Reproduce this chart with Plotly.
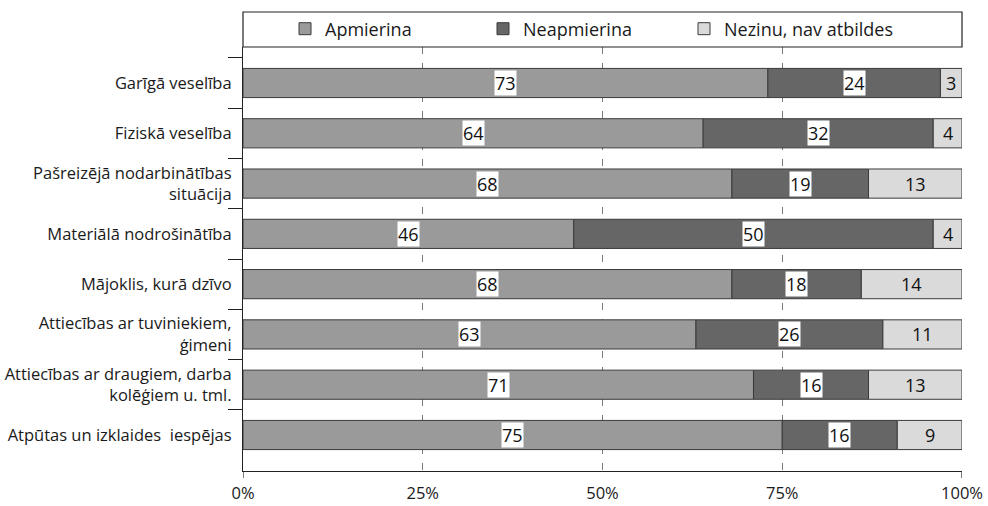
import plotly.graph_objects as go

# Survey categories (top to bottom)
categories = [
    "Garīgā veselība",
    "Fiziskā veselība",
    "Pašreizējā nodarbinātības<br>situācija",
    "Materiālā nodrošinātība",
    "Mājoklis, kurā dzīvo",
    "Attiecības ar tuviniekiem,<br>ģimeni",
    "Attiecības ar draugiem, darba<br>kolēģiem u. tml.",
    "Atpūtas un izklaides  iespējas",
]

# Shares of respondents, %
apmierina = [73, 64, 68, 46, 68, 63, 71, 75]
neapmierina = [24, 32, 19, 50, 18, 26, 16, 16]
nezinu = [3, 4, 13, 4, 14, 11, 13, 9]

series_names = ["Apmierina", "Neapmierina", "Nezinu, nav atbildes"]
series_values = [apmierina, neapmierina, nezinu]
series_colors = ["#9a9a9a", "#666666", "#dadada"]
label_bg = ["white", "white", "rgba(0,0,0,0)"]

x_tickvals = [0, 25, 50, 75, 100]
x_ticktext = ["0%", "25%", "50%", "75%", "100%"]

FONT = "Open Sans"
W, H = 988, 506
M_L, M_R, M_T, M_B = 243, 26, 47, 35
plot_w = W - M_L - M_R
plot_h = H - M_T - M_B

# one legend per series so each entry sits at its own spot in the top strip
legend_ids = ["legend", "legend2", "legend3"]
legend_left_px = [285, 483, 684]

fig = go.Figure()
annotations = []
base = [0] * len(categories)
for name, vals, color, bg, lg in zip(series_names, series_values, series_colors,
                                     label_bg, legend_ids):
    fig.add_trace(go.Bar(
        name=name,
        y=categories,
        x=vals,
        base=base,
        orientation="h",
        marker=dict(color=color, line=dict(color="#3a3a3a", width=1)),
        hoverinfo="skip",
        legend=lg,
    ))
    for cat, b, v in zip(categories, base, vals):
        annotations.append(dict(
            x=b + v / 2, y=cat, xref="x", yref="y",
            text=str(v), showarrow=False,
            font=dict(family=FONT, size=18, color="#111111"),
            bgcolor=bg, borderpad=0,
        ))
    base = [b + v for b, v in zip(base, vals)]

shapes = [
    # frame around the legend strip
    dict(type="rect", xref="paper", yref="paper",
         x0=0, x1=1, y0=1, y1=1 + 35 / plot_h,
         line=dict(color="#222222", width=1.2), layer="above"),
]
# short ticks under the axis at both ends
for xv in (0, 100):
    shapes.append(dict(type="line", xref="x", yref="paper",
                       x0=xv, x1=xv, y0=0, y1=-7 / plot_h,
                       line=dict(color="#222222", width=1.2)))

legend_common = dict(
    orientation="h", xanchor="left",
    y=(H - M_B - 29) / plot_h, yanchor="middle",
    font=dict(family=FONT, size=18, color="#1a1a1a"),
    bgcolor="rgba(0,0,0,0)", borderwidth=0,
    itemclick=False, itemdoubleclick=False,
)
legend_layout = {
    lg: dict(legend_common, x=(px - M_L) / plot_w)
    for lg, px in zip(legend_ids, legend_left_px)
}

fig.update_layout(
    width=W, height=H,
    margin=dict(l=M_L, r=M_R, t=M_T, b=M_B, pad=0, autoexpand=False),
    paper_bgcolor="white", plot_bgcolor="white",
    barmode="overlay", bargap=0.42,
    font=dict(family=FONT, size=16, color="#1a1a1a"),
    showlegend=True,
    annotations=annotations,
    shapes=shapes,
    xaxis=dict(
        range=[0, 100], tickvals=x_tickvals, ticktext=x_ticktext,
        showgrid=True, gridcolor="#7a7a7a", gridwidth=1, griddash="7px,9px",
        zeroline=False, showline=True, linecolor="#222222", linewidth=1.2,
        ticks="", ticklabelstandoff=7,
        tickfont=dict(family=FONT, size=16.5, color="#1a1a1a"),
    ),
    yaxis=dict(
        categoryorder="array", categoryarray=categories,
        range=[7.716, -0.716],
        tickson="boundaries", ticks="outside", ticklen=14,
        tickcolor="#222222", tickwidth=1.2,
        showgrid=False, zeroline=False,
        showline=True, linecolor="#222222", linewidth=1.2,
        ticklabelstandoff=7,
        tickfont=dict(family=FONT, size=16.5, color="#1a1a1a"),
    ),
    **legend_layout,
)

fig.write_html("out.html")
